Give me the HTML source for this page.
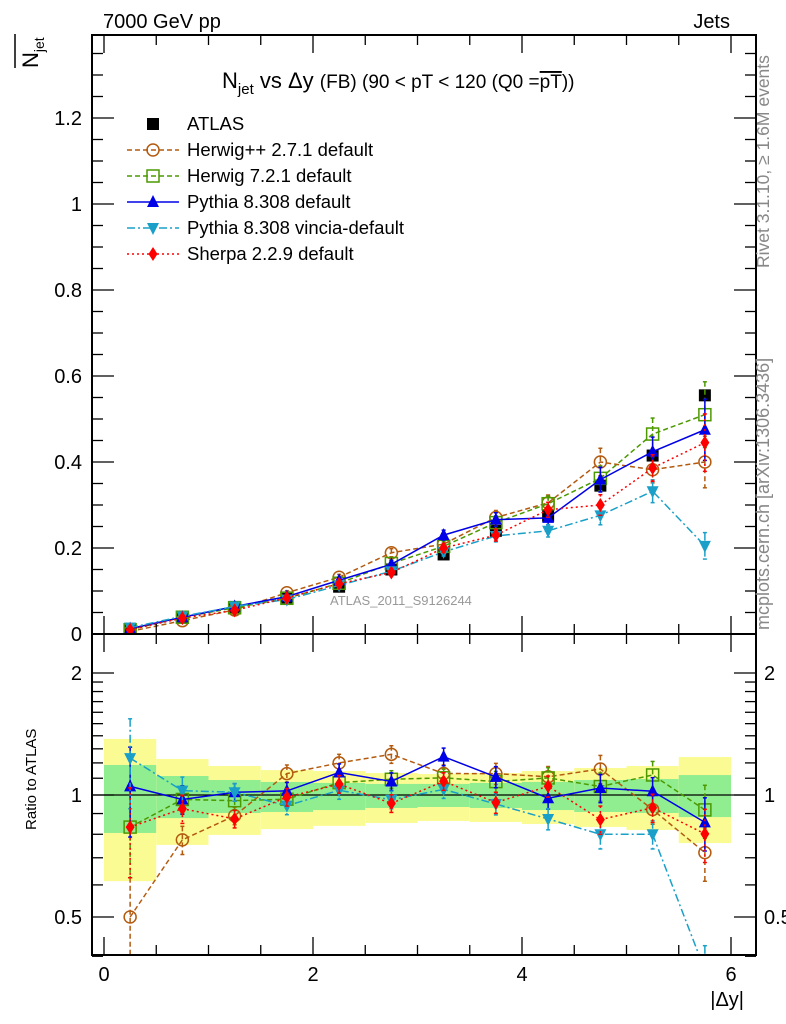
<!DOCTYPE html>
<html><head><meta charset="utf-8"><style>
body{margin:0;background:#fff;}
svg{display:block;font-family:"Liberation Sans",sans-serif;}
</style></head><body>
<svg id="c" width="786" height="1024" viewBox="0 0 786 1024"></svg>
<script>
const bins=[0.25,0.75,1.25,1.75,2.25,2.75,3.25,3.75,4.25,4.75,5.25,5.75];
const atlas=[0.012,0.04,0.063,0.085,0.11,0.15,0.185,0.24,0.275,0.345,0.415,0.555];
const herwigpp=[0.006,0.031,0.056,0.096,0.132,0.189,0.209,0.271,0.305,0.40,0.382,0.40];
const herwig7=[0.010,0.039,0.061,0.083,0.118,0.164,0.204,0.259,0.303,0.362,0.465,0.51];
const pythia=[0.0126,0.039,0.064,0.087,0.125,0.162,0.23,0.266,0.27,0.359,0.424,0.475];
const vincia=[0.0148,0.041,0.064,0.080,0.113,0.146,0.191,0.228,0.24,0.276,0.332,0.205];
const sherpa=[0.010,0.037,0.055,0.084,0.117,0.143,0.2,0.23,0.289,0.30,0.386,0.445];
const relErr=[0.25,0.08,0.05,0.05,0.05,0.05,0.05,0.06,0.06,0.08,0.08,0.15];
const yellowUp=[1.375,1.227,1.179,1.152,1.146,1.133,1.127,1.133,1.146,1.166,1.179,1.241];
const yellowDn=[0.613,0.753,0.797,0.824,0.839,0.853,0.863,0.858,0.848,0.834,0.820,0.761];
const greenUp=[1.186,1.114,1.089,1.077,1.071,1.065,1.065,1.071,1.077,1.089,1.095,1.12];
const greenDn=[0.806,0.877,0.903,0.908,0.918,0.929,0.934,0.929,0.918,0.908,0.903,0.882];
const mainTicks=[0,0.2,0.4,0.6,0.8,1,1.2];
const xTicks=[0,2,4,6];

const S=document.getElementById('c');const NS='http://www.w3.org/2000/svg';
function el(t,a,p){const e=document.createElementNS(NS,t);for(const k in a)e.setAttribute(k,a[k]);(p||S).appendChild(e);return e;}
const L=92,R=756,T=35,MB=634,RB=955;
const X=v=>104+v*104.5;
const Y=v=>634-430*v;
const YR=r=>795-122*Math.log2(r);
const defs=el('defs',{});
const cp1=el('clipPath',{id:'cm'},defs);el('rect',{x:L,y:T,width:R-L,height:MB-T},cp1);
const cp2=el('clipPath',{id:'cr'},defs);el('rect',{x:L,y:MB,width:R-L,height:RB-MB},cp2);

const gb=el('g',{'clip-path':'url(#cr)'});


bins.forEach((b,i)=>{
 const r1=el('rect',{x:X(b-0.25),y:YR(yellowUp[i]),width:X(0.5)-X(0),height:YR(yellowDn[i])-YR(yellowUp[i]),fill:'#fbfb94'},gb);
 
 
 const r2=el('rect',{x:X(b-0.25),y:YR(greenUp[i]),width:X(0.5)-X(0),height:YR(greenDn[i])-YR(greenUp[i]),fill:'#90ee90'},gb);
 
 
});
el('line',{x1:L,x2:R,y1:YR(1),y2:YR(1),stroke:'#000','stroke-width':1.3});

const series=[
 {n:'herwigpp',d:herwigpp,c:'#b35a0e',dash:'5,3',m:'circle',lab:'Herwig++ 2.7.1 default'},
 {n:'herwig7',d:herwig7,c:'#4c9900',dash:'5,3',m:'square',lab:'Herwig 7.2.1 default'},
 {n:'pythia',d:pythia,c:'#0000e6',dash:'',m:'tri',lab:'Pythia 8.308 default'},
 {n:'vincia',d:vincia,c:'#1aa0c8',dash:'8,3,2,3',m:'itri',lab:'Pythia 8.308 vincia-default'},
 {n:'sherpa',d:sherpa,c:'#ff0000',dash:'2,3',m:'diamond',lab:'Sherpa 2.2.9 default'}];
function marker(m,x,y,c,g){
 if(m==='circle')return el('circle',{cx:x,cy:y,r:6,fill:'none',stroke:c,'stroke-width':1.5},g);
 if(m==='square')return el('rect',{x:x-6,y:y-6,width:12,height:12,fill:'none',stroke:c,'stroke-width':1.5},g);
 if(m==='tri')return el('polygon',{points:`${x},${y-7} ${x-6},${y+5} ${x+6},${y+5}`,fill:c},g);
 if(m==='itri')return el('polygon',{points:`${x},${y+7} ${x-6},${y-5} ${x+6},${y-5}`,fill:c},g);
 if(m==='diamond')return el('polygon',{points:`${x},${y-7} ${x-4.5},${y} ${x},${y+7} ${x+4.5},${y}`,fill:c},g);
 if(m==='bsq')return el('rect',{x:x-6,y:y-6,width:12,height:12,fill:c},g);
}
function drawSeries(s,main){
 const g=el('g',{'clip-path':main?'url(#cm)':'url(#cr)'});
 
 
 const yf=main?(i=>Y(s.d[i])):(i=>YR(s.d[i]/atlas[i]));
 const pts=bins.map((b,i)=>X(b)+','+yf(i)).join(' ');
 const pl=el('polyline',{points:pts,fill:'none',stroke:s.c,'stroke-width':1.5,'stroke-dasharray':s.dash},g);
 
 
 bins.forEach((b,i)=>{
  const v=s.d[i],e=v*relErr[i];
  const yu=main?Y(v+e):YR((v+e)/atlas[i]),yd=main?Y(v-e):YR(Math.max(v-e,1e-4)/atlas[i]);
  el('line',{x1:X(b),x2:X(b),y1:yu,y2:yd,stroke:s.c,'stroke-width':1.5,'stroke-dasharray':s.dash},g);
  el('line',{x1:X(b)-2,x2:X(b)+2,y1:yu,y2:yu,stroke:s.c,'stroke-width':1.5},g);
  el('line',{x1:X(b)-2,x2:X(b)+2,y1:yd,y2:yd,stroke:s.c,'stroke-width':1.5},g);
  const mk=marker(s.m,X(b),yf(i),s.c,g);
  
  
 });
}
const ga=el('g',{'clip-path':'url(#cm)'});


bins.forEach((b,i)=>{
 const mk=marker('bsq',X(b),Y(atlas[i]),'#000',ga);
 
 
});
series.forEach(s=>{drawSeries(s,true);drawSeries(s,false);});

el('rect',{x:L,y:T,width:R-L,height:MB-T,fill:'none',stroke:'#000','stroke-width':2});
el('rect',{x:L,y:MB,width:R-L,height:RB-MB,fill:'none',stroke:'#000','stroke-width':2});
for(let k=0;k<=27;k++){const v=k*0.05,y=Y(v);if(y<T)break;const big=k%4===0;
 el('line',{x1:L,x2:L+(big?22:11),y1:y,y2:y,stroke:'#000','stroke-width':1.3});
 el('line',{x1:R,x2:R-(big?22:11),y1:y,y2:y,stroke:'#000','stroke-width':1.3});}
mainTicks.forEach(v=>{const t=el('text',{x:82,y:Y(v)+7,'font-size':20,'text-anchor':'end'});t.textContent=String(v);
 });
const rt=[0.4,0.5,0.6,0.7,0.8,0.9,1,1.1,1.2,1.3,1.4,1.5,1.6,1.7,1.8,1.9,2,2.5];
rt.forEach(r=>{const y=YR(r);const big=(r===0.5||r===1||r===2);
 el('line',{x1:L,x2:L+(big?22:11),y1:y,y2:y,stroke:'#000','stroke-width':1.3});
 el('line',{x1:R,x2:R-(big?22:11),y1:y,y2:y,stroke:'#000','stroke-width':1.3});});
[[0.5,'0.5'],[1,'1'],[2,'2']].forEach(([r,s])=>{
 const a=el('text',{x:82,y:YR(r)+7,'font-size':20,'text-anchor':'end'});a.textContent=s;
 const b=el('text',{x:764,y:YR(r)+7,'font-size':20});b.textContent=s;});
for(let k=0;k<=12;k++){const v=k*0.5,x=X(v);const big=k%4===0;
 el('line',{x1:x,x2:x,y1:RB,y2:RB-(big?18:10),stroke:'#000','stroke-width':1.3});
 el('line',{x1:x,x2:x,y1:MB,y2:MB+(big?18:10),stroke:'#000','stroke-width':1.3});
 el('line',{x1:x,x2:x,y1:MB,y2:MB-(big?18:10),stroke:'#000','stroke-width':1.3});
 el('line',{x1:x,x2:x,y1:T,y2:T+(big?18:10),stroke:'#000','stroke-width':1.3});}
xTicks.forEach(v=>{const t=el('text',{x:X(v),y:981,'font-size':20,'text-anchor':'middle'});t.textContent=String(v);
 });

const lg=el('g',{});


const ly=[124,150,176,202,228,254];
marker('bsq',153,ly[0],'#000',lg);
let t0=el('text',{x:187,y:ly[0]+6,'font-size':18.5},lg);t0.textContent='ATLAS';
series.forEach((s,i)=>{const y=ly[i+1];
 const e=el('g',{},lg);
 
 
 el('line',{x1:127,x2:179,y1:y,y2:y,stroke:s.c,'stroke-width':1.5,'stroke-dasharray':s.dash},e);
 marker(s.m,153,y,s.c,e);
 const t=el('text',{x:187,y:y+6,'font-size':18.5},e);t.textContent=s.lab;});
</script>
<svg width="786" height="1024" style="position:absolute;left:0;top:0">
<text x="103" y="28" font-size="20" font-family="Liberation Sans">7000 GeV pp</text>
<text x="730" y="28" font-size="20" font-family="Liberation Sans" text-anchor="end">Jets</text>
<text x="222" y="88" font-size="22" font-family="Liberation Sans">N<tspan font-size="15" dy="6">jet</tspan><tspan dy="-6"> vs </tspan>Δy <tspan font-size="19">(FB) (90 &lt; pT &lt; 120 (Q0 =</tspan><tspan font-size="19" text-decoration="overline">pT</tspan><tspan font-size="19">))</tspan></text>
<g transform="translate(38,68) rotate(-90)"><text x="0" y="0" font-size="22" font-family="Liberation Sans">N<tspan font-size="14" dy="6">jet</tspan></text><line x1="0" x2="34" y1="-23" y2="-23" stroke="#000" stroke-width="1.5"/></g>
<text transform="translate(36,830) rotate(-90)" font-size="15" font-family="Liberation Sans">Ratio to ATLAS</text>
<text x="744" y="1006" font-size="20" font-family="Liberation Sans" text-anchor="end">|Δy|</text>
<text transform="translate(769,268) rotate(-90)" font-size="17.5" fill="#888" font-family="Liberation Sans">Rivet 3.1.10, ≥ 1.6M events</text>
<text transform="translate(769,630) rotate(-90)" font-size="18" fill="#888" font-family="Liberation Sans">mcplots.cern.ch [arXiv:1306.3436]</text>
<text x="330" y="605" font-size="13" fill="#999" font-family="Liberation Sans">ATLAS_2011_S9126244</text>
</svg>
</body></html>
